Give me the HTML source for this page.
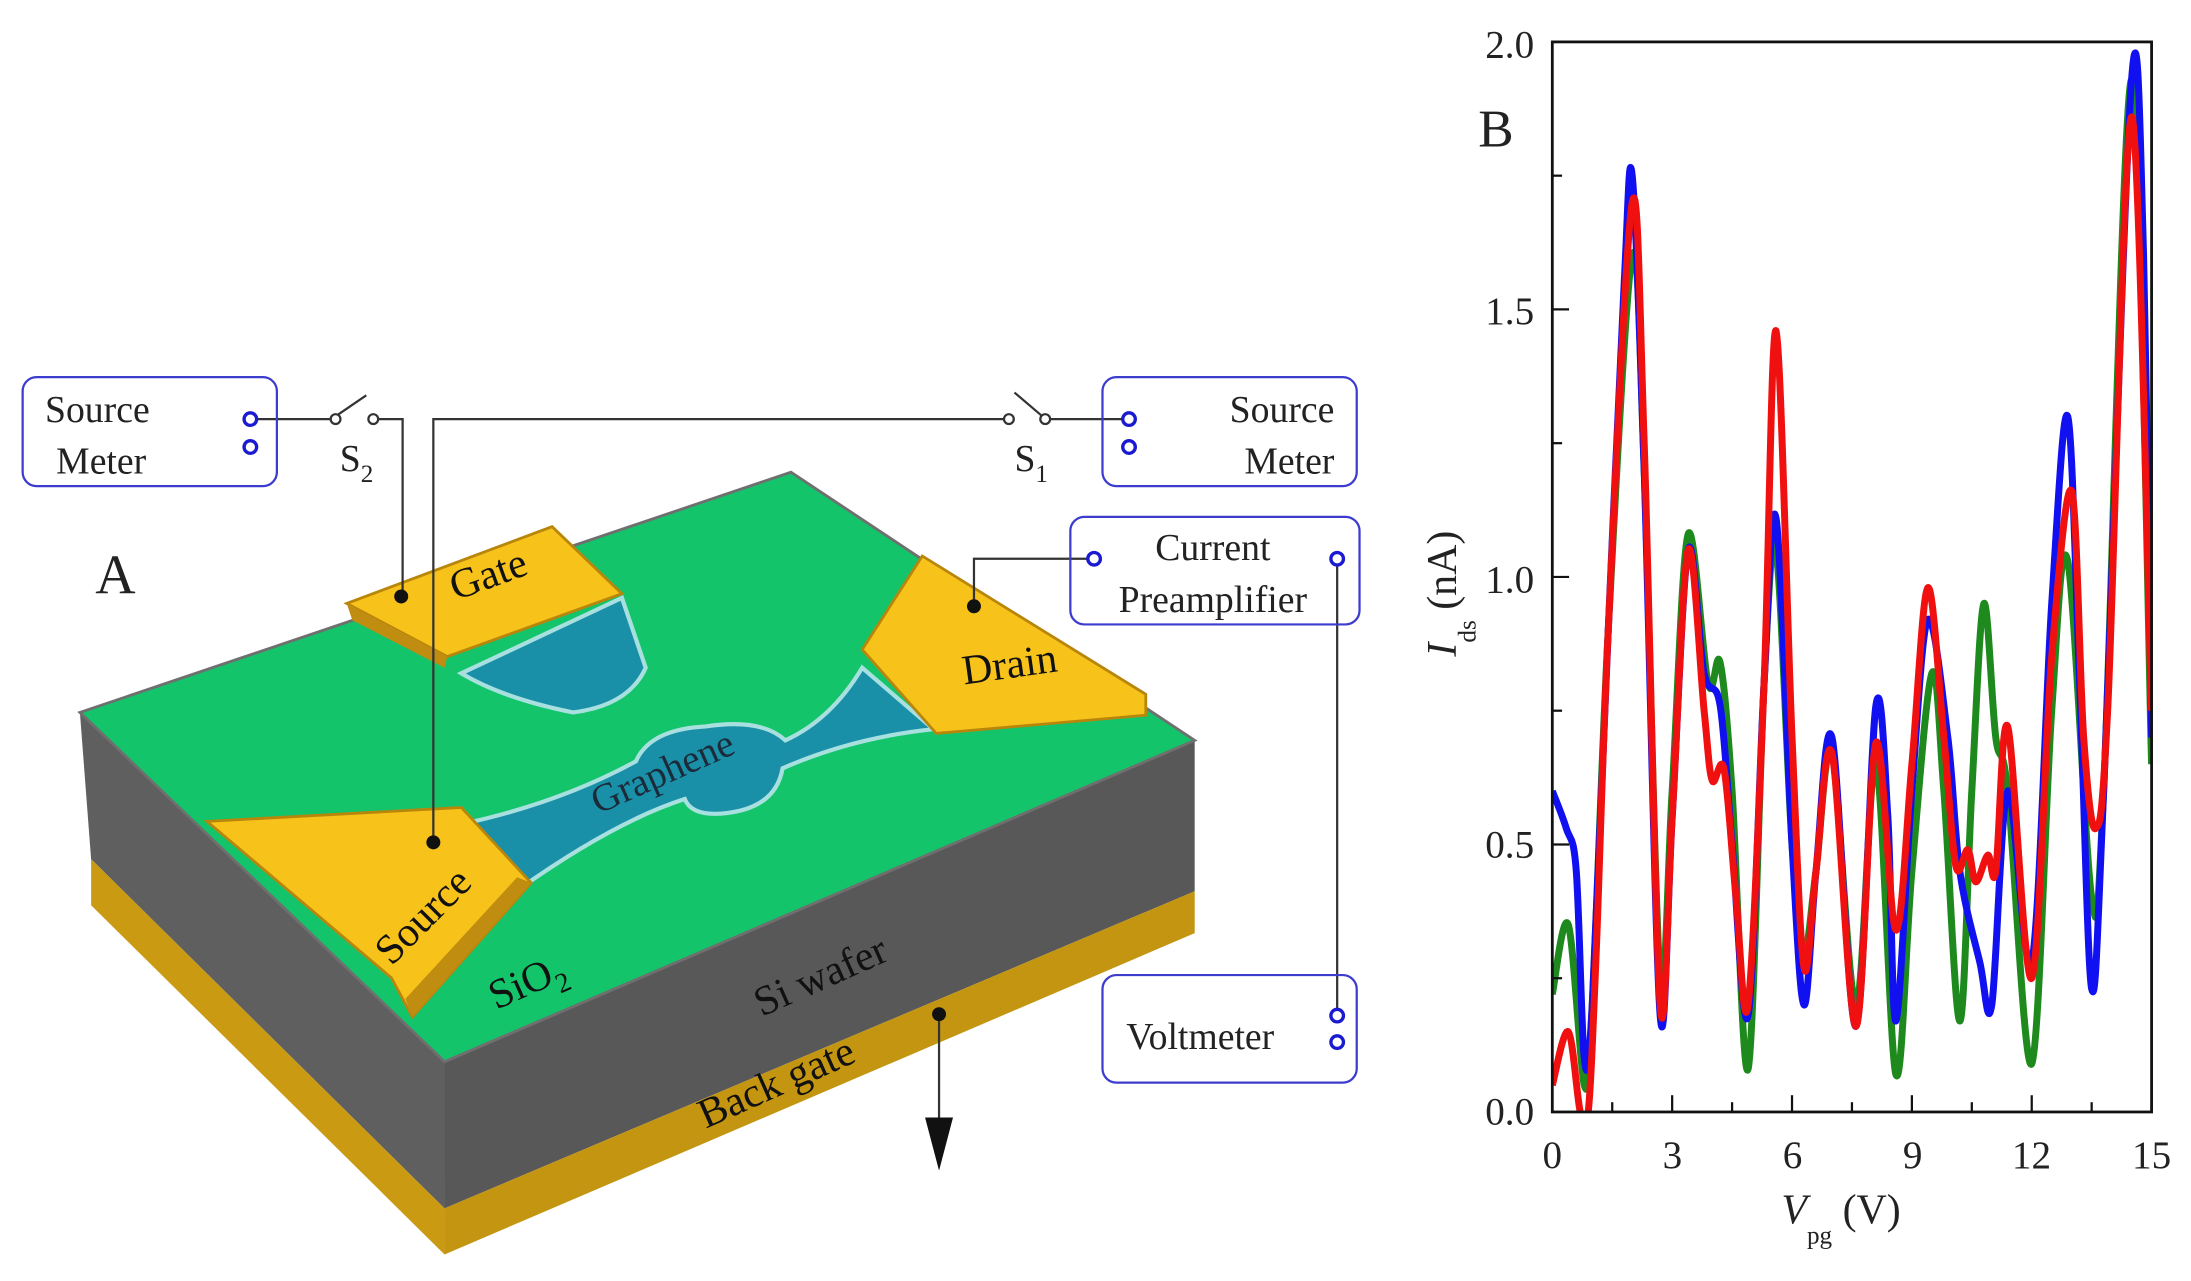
<!DOCTYPE html>
<html><head><meta charset="utf-8"><style>
html,body{margin:0;padding:0;background:#fff;}
svg{display:block;}
text{font-family:"Liberation Serif",serif;fill:#222;}
</style></head><body>
<svg id="s" width="2191" height="1281" viewBox="0 0 1568 917" xmlns="http://www.w3.org/2000/svg">
<defs><clipPath id="cp"><rect x="1111" y="30" width="429" height="766"/></clipPath></defs>
<!-- Device block -->
<polygon points="57,510 318,760 318,865 65,615" fill="#5f5f5f"/>
<polygon points="65,615 318,865 318,898 65,648" fill="#c99a12"/>
<polygon points="318,760 855,530 855,638 318,865" fill="#585858"/>
<polygon points="318,865 855,638 855,668 318,898" fill="#c49510"/>
<polygon points="57,510 566,338 855,530 318,760" fill="#13c46a" stroke="#6f6f6f" stroke-width="2"/>
<!-- graphene -->
<path d="M330,482 L445,428 L462,478 Q450,505 410,510 Q360,500 330,482 Z" fill="#1a8fa8" stroke="#a8e0e0" stroke-width="3"/>
<path d="M372,636 L330,590 Q400,575 455,545 Q465,522 505,520 Q545,514 562,530 Q595,515 617,478 L668,522 Q610,528 560,550 Q555,578 520,582 Q495,585 490,572 Q440,588 372,636 Z" fill="#1a8fa8" stroke="#a8e0e0" stroke-width="3"/>
<!-- electrodes -->
<polygon points="248,432 395,377 445,425 320,470" fill="#f7c21a" stroke="#b8860b" stroke-width="2"/>
<polygon points="248,432 320,470 318,478 252,444" fill="#c08d10"/>
<polygon points="617,465 660,398 820,497 820,512 670,525" fill="#f7c21a" stroke="#b8860b" stroke-width="2"/>
<polygon points="148,588 330,578 380,632 295,728 280,700" fill="#f7c21a" stroke="#b8860b" stroke-width="2"/>
<polygon points="380,632 295,728 290,715 370,628" fill="#c08d10"/>
<!-- wires -->
<g stroke="#333" stroke-width="1.6" fill="none">
<line x1="184" y1="300" x2="236" y2="300"/>
<line x1="240" y1="298" x2="262" y2="283"/>
<polyline points="271,300 288,300 288,427"/>
<polyline points="310,603 310,300 718,300"/>
<line x1="726" y1="281" x2="746" y2="298"/>
<line x1="752" y1="300" x2="803" y2="300"/>
<polyline points="778,400 697,400 697,433"/>
<line x1="957" y1="405" x2="957" y2="722"/>
<line x1="672" y1="726" x2="672" y2="800"/>
<circle cx="240" cy="300" r="3.5" fill="#fff"/><circle cx="267" cy="300" r="3.5" fill="#fff"/>
<circle cx="722" cy="300" r="3.5" fill="#fff"/><circle cx="748" cy="300" r="3.5" fill="#fff"/>
</g>
<polygon points="662,800 682,800 672,838" fill="#111"/>
<g fill="#111"><circle cx="287" cy="427" r="5"/><circle cx="310" cy="603" r="5"/><circle cx="697" cy="434" r="5"/><circle cx="672" cy="726" r="5"/></g>
<!-- boxes -->
<g fill="none" stroke="#3c3ccf" stroke-width="1.6">
<rect x="16" y="270" width="182" height="78" rx="10"/>
<rect x="789" y="270" width="182" height="78" rx="10"/>
<rect x="766" y="370" width="207" height="77" rx="10"/>
<rect x="789" y="698" width="182" height="77" rx="10"/>
</g>
<g fill="#fff" stroke="#1a1ad0" stroke-width="2.4">
<circle cx="179" cy="300" r="4.5"/><circle cx="179" cy="320" r="4.5"/>
<circle cx="808" cy="300" r="4.5"/><circle cx="808" cy="320" r="4.5"/>
<circle cx="783" cy="400" r="4.5"/><circle cx="957" cy="400" r="4.5"/>
<circle cx="957" cy="727" r="4.5"/><circle cx="957" cy="746" r="4.5"/>
</g>
<g font-size="27">
<text x="32" y="302">Source</text><text x="40" y="339">Meter</text>
<text x="955" y="302" text-anchor="end">Source</text><text x="955" y="339" text-anchor="end">Meter</text>
<text x="868" y="401" text-anchor="middle">Current</text><text x="868" y="438" text-anchor="middle">Preamplifier</text>
<text x="806" y="751">Voltmeter</text>
<text x="243" y="337">S<tspan font-size="18" dy="8">2</tspan></text>
<text x="726" y="337">S<tspan font-size="18" dy="8">1</tspan></text>
</g>
<text x="68" y="425" font-size="40">A</text>
<g font-size="30" fill="#111">
<text transform="translate(326,430) rotate(-20)" style="fill:#111">Gate</text>
<text transform="translate(690,490) rotate(-8)" style="fill:#111">Drain</text>
<text transform="translate(428,583) rotate(-24)" font-size="28" style="fill:#1b2b3a">Graphene</text>
<text transform="translate(280,692) rotate(-45)" style="fill:#111">Source</text>
<text transform="translate(355,723) rotate(-24)" style="fill:#111">SiO<tspan font-size="20" dy="8">2</tspan></text>
<text transform="translate(545,728) rotate(-24)" style="fill:#111">Si wafer</text>
<text transform="translate(505,808) rotate(-24)" style="fill:#111">Back gate</text>
</g>
<!-- Chart -->
<g id="chart" clip-path="url(#cp)"></g>
<g id="ticks"></g>
<rect x="1111" y="30" width="429" height="766" fill="none" stroke="#111" stroke-width="2"/>
<text x="1058" y="105" font-size="38">B</text>
<g font-size="28" fill="#222" text-anchor="end">
<text x="1098" y="805">0.0</text><text x="1098" y="614">0.5</text><text x="1098" y="424">1.0</text><text x="1098" y="232">1.5</text><text x="1098" y="41">2.0</text>
</g>
<g font-size="28" text-anchor="middle">
<text x="1111" y="836">0</text><text x="1197" y="836">3</text><text x="1283" y="836">6</text><text x="1369" y="836">9</text><text x="1454" y="836">12</text><text x="1540" y="836">15</text>
</g>
<text x="1275" y="876" font-size="30"><tspan font-style="italic">V</tspan><tspan font-size="18" dy="14">pg</tspan><tspan dy="-14"> (V)</tspan></text>
<text transform="translate(1042,470) rotate(-90)" font-size="30"><tspan font-style="italic">I</tspan><tspan font-size="18" dy="14">ds</tspan><tspan dy="-14"> (nA)</tspan></text>
</svg>
<script>
var X=function(v){return 1111+v*28.6},Y=function(v){return 796-v*383};
var g=document.getElementById('chart'),tk=document.getElementById('ticks'),ns='http://www.w3.org/2000/svg';
var blue=[[0,.6],[.35,.53],[.6,.45],[.8,.1],[1,.2],[1.4,.9],[1.8,1.55],[2,1.75],[2.3,1.2],[2.7,.18],[3,.55],[3.4,1.05],[3.8,.82],[4.2,.76],[4.5,.5],[4.9,.18],[5.3,.8],[5.6,1.11],[6,.5],[6.3,.2],[6.6,.45],[7,.7],[7.6,.16],[8.1,.76],[8.4,.55],[8.6,.17],[9,.6],[9.4,.92],[9.9,.7],[10.2,.45],[10.7,.28],[11,.2],[11.4,.6],[12,.28],[12.5,.95],[12.9,1.3],[13.2,.8],[13.5,.23],[13.8,.6],[14.5,1.93],[14.8,1.6],[15,.7]];
var green=[[0,.22],[.4,.35],[.8,.05],[1,.2],[1.4,.9],[2,1.6],[2.3,1.2],[2.7,.25],[3,.6],[3.4,1.08],[3.9,.8],[4.2,.84],[4.5,.6],[4.9,.08],[5.3,.8],[5.6,1.05],[6,.5],[6.3,.3],[6.6,.45],[7,.67],[7.6,.2],[8.1,.65],[8.6,.07],[9,.45],[9.5,.82],[9.8,.6],[10.2,.17],[10.5,.6],[10.8,.95],[11.1,.7],[11.4,.6],[12,.09],[12.5,.75],[12.9,1.03],[13.5,.4],[13.8,.6],[14.5,1.93],[15,.65]];
var red=[[0,.05],[.4,.15],[.7,0],[.9,0],[1.1,.3],[1.4,.9],[2,1.7],[2.3,1.25],[2.7,.2],[3,.55],[3.4,1.05],[3.8,.75],[4,.62],[4.3,.64],[4.6,.4],[4.9,.2],[5.3,.8],[5.6,1.46],[6,.7],[6.3,.27],[6.6,.45],[7,.67],[7.6,.16],[8.1,.69],[8.6,.34],[9,.65],[9.4,.98],[9.8,.7],[10.1,.46],[10.4,.49],[10.6,.43],[10.9,.48],[11.1,.45],[11.4,.72],[12,.25],[12.5,.85],[13,1.16],[13.3,.7],[13.6,.53],[13.9,.75],[14.5,1.86],[15,.75]];
function path(d,c){var p=d.map(function(a){return[X(a[0]),Y(a[1])]}),s='M'+p[0][0]+','+p[0][1];
for(var i=0;i<p.length-1;i++){var p0=p[i-1]||p[i],p1=p[i],p2=p[i+1],p3=p[i+2]||p2;
s+='C'+(p1[0]+(p2[0]-p0[0])/6)+','+(p1[1]+(p2[1]-p0[1])/6)+' '+(p2[0]-(p3[0]-p1[0])/6)+','+(p2[1]-(p3[1]-p1[1])/6)+' '+p2[0]+','+p2[1];}
var e=document.createElementNS(ns,'path');e.setAttribute('d',s);e.setAttribute('fill','none');e.setAttribute('stroke',c);e.setAttribute('stroke-width','5');e.setAttribute('stroke-linejoin','round');g.appendChild(e);}
path(green,'#1e8a1e');path(blue,'#1010f0');path(red,'#f01010');
function ln(a,b,c,d){var t=document.createElementNS(ns,'line');t.setAttribute('x1',a);t.setAttribute('x2',c);t.setAttribute('y1',b);t.setAttribute('y2',d);t.setAttribute('stroke','#111');t.setAttribute('stroke-width','1.6');tk.appendChild(t);}
for(var i=1;i<10;i++){var x=X(i*1.5),L=i%2?7:12;ln(x,796,x,796-L);}
for(var j=1;j<8;j++){var y=Y(j*.25),L=j%2?7:12;ln(1111,y,1111+L,y);}
</script>
</body></html>
